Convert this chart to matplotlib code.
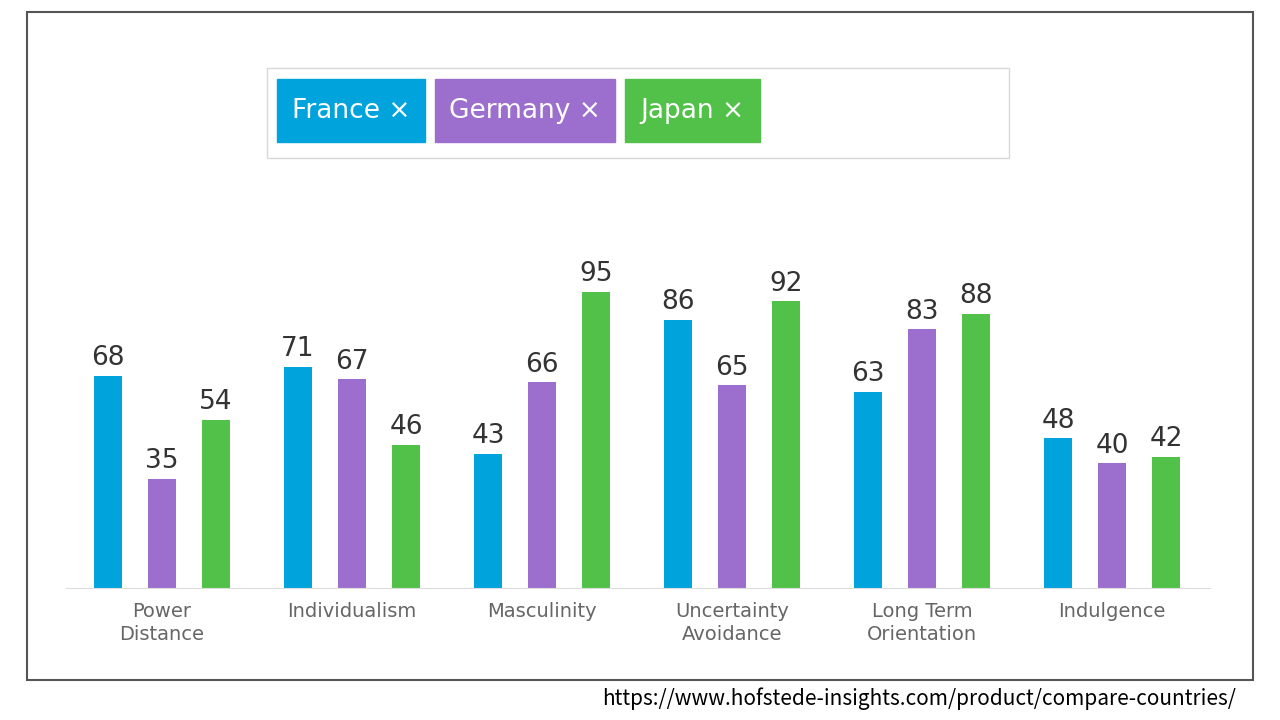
import numpy as np
import matplotlib.pyplot as plt
from matplotlib.patches import Rectangle

categories = ["Power\nDistance", "Individualism", "Masculinity", "Uncertainty\nAvoidance",
              "Long Term\nOrientation", "Indulgence"]
countries = ["France", "Germany", "Japan"]
france = [68, 71, 43, 86, 63, 48]
germany = [35, 67, 66, 65, 83, 40]
japan = [54, 46, 95, 92, 88, 42]
colors = ["#00A3DC", "#9C6FCF", "#52C149"]

W, H = 1280, 720
fig = plt.figure(figsize=(12.8, 7.2), dpi=100)
fig.patch.set_facecolor("white")

# outer frame
fig.add_artist(Rectangle((27 / W, 1 - 680 / H), 1226 / W, 668 / H, transform=fig.transFigure,
                         fill=False, edgecolor="#555555", lw=1.5))

ax = fig.add_axes([66 / W, 1 - 588 / H, 1144 / W, 311.6 / H])
x = np.arange(len(categories))
off = 54 / 190
wid = 28 / 190
for k, vals in enumerate([france, germany, japan]):
    xs = x + (k - 1) * off
    ax.bar(xs, vals, width=wid, color=colors[k], zorder=2)
    for xi, v in zip(xs, vals):
        ax.text(xi, v + 1.5, str(v), ha="center", va="bottom", fontsize=19, color="#333333")
ax.set_xlim(-0.505, 5.516)
ax.set_ylim(0, 100)
for s in ["top", "right", "left"]:
    ax.spines[s].set_visible(False)
ax.spines["bottom"].set_color("#DDDDDD")
ax.set_yticks([])
ax.set_xticks(x)
ax.set_xticklabels(categories, fontsize=14, color="#666666", linespacing=1.3)
ax.tick_params(axis="x", length=0, pad=10)

# legend box with chips
fig.add_artist(Rectangle((267 / W, 1 - 158 / H), 742 / W, 90 / H, transform=fig.transFigure,
                         fill=False, edgecolor="#D8D8D8", lw=1))
chips = [(277, 425), (435, 615), (625, 760)]
for (x0, x1), name, c in zip(chips, countries, colors):
    fig.add_artist(Rectangle((x0 / W, 1 - 142 / H), (x1 - x0) / W, 63 / H,
                             transform=fig.transFigure, color=c))
    fig.text((x0 + x1) / 2 / W, 1 - 111 / H, name + " \u00d7", ha="center", va="center",
             fontsize=19, color="white")

fig.text(1236 / W, 1 - 699 / H, "https://www.hofstede-insights.com/product/compare-countries/",
         ha="right", va="center", fontsize=15, color="black",
         family=["Noto Sans CJK JP", "DejaVu Sans"])

fig.savefig("out.png", dpi=100)
